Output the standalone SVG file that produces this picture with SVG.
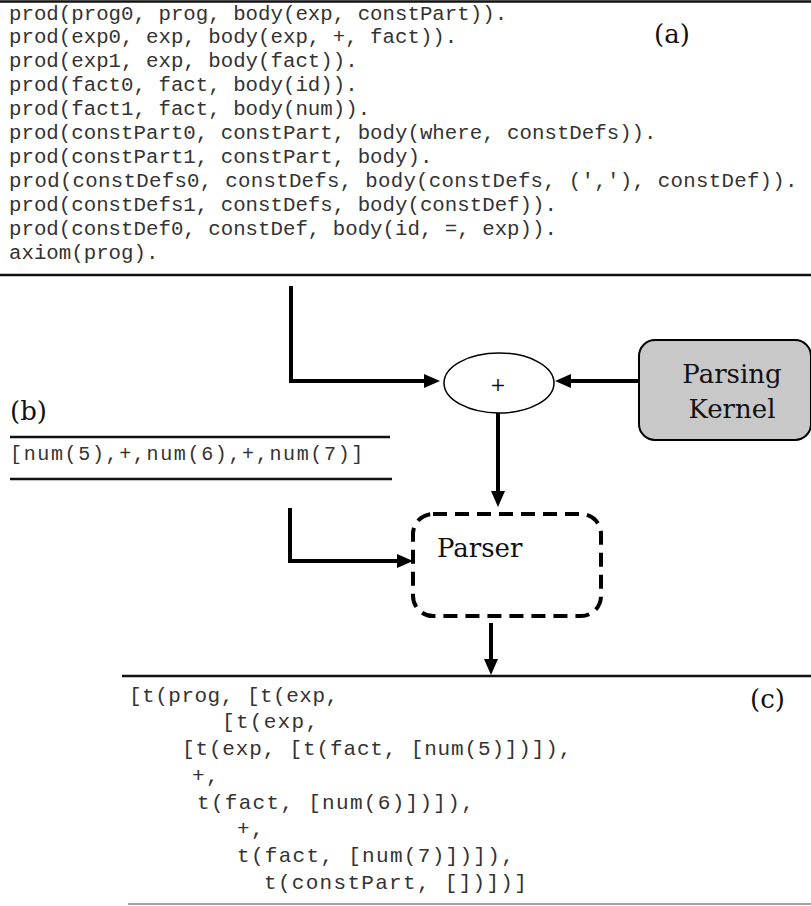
<svg xmlns="http://www.w3.org/2000/svg" width="811" height="906" viewBox="0 0 811 906">
<style>
.code{font-family:"Liberation Mono","Courier New",monospace;fill:#333}
.ca{font-size:20.76px}
.cb{font-size:20px;letter-spacing:1.65px}
.cc{font-size:21px;letter-spacing:1.3px}
.lbl{font-family:"DejaVu Serif","Liberation Serif",serif;fill:#111}
.rule{stroke:#111;stroke-width:2.5;fill:none}
.conn{stroke:#000;stroke-width:4;fill:none;stroke-linejoin:miter}
</style>
<defs>
<marker id="ah" markerUnits="userSpaceOnUse" markerWidth="16" markerHeight="14" refX="2" refY="7" orient="auto">
<path d="M0,0 L16,7 L0,14 Z" fill="#000"/>
</marker>
</defs>
<rect width="811" height="906" fill="#fff"/>

<g id="panel-a">
<line class="rule" x1="0" y1="1.5" x2="811" y2="1.5" stroke-width="3"/>
<text class="code ca" x="9" y="19.5">prod(prog0, prog, body(exp, constPart)).</text>
<text class="code ca" x="9" y="43.4">prod(exp0, exp, body(exp, +, fact)).</text>
<text class="code ca" x="9" y="67.3">prod(exp1, exp, body(fact)).</text>
<text class="code ca" x="9" y="91.2">prod(fact0, fact, body(id)).</text>
<text class="code ca" x="9" y="115.1">prod(fact1, fact, body(num)).</text>
<text class="code ca" x="9" y="139">prod(constPart0, constPart, body(where, constDefs)).</text>
<text class="code ca" x="9" y="162.9">prod(constPart1, constPart, body).</text>
<text class="code ca" x="9" y="186.8" style="letter-spacing:0.27px">prod(constDefs0, constDefs, body(constDefs, (','), constDef)).</text>
<text class="code ca" x="9" y="210.7">prod(constDefs1, constDefs, body(constDef)).</text>
<text class="code ca" x="9" y="234.6">prod(constDef0, constDef, body(id, =, exp)).</text>
<text class="code ca" x="9" y="258.5">axiom(prog).</text>
<text class="lbl" x="654" y="43" font-size="26">(a)</text>
<line class="rule" x1="0" y1="275" x2="811" y2="275"/>
</g>

<g id="panel-b">
<text class="lbl" x="10" y="420" font-size="26">(b)</text>
<line class="rule" x1="10" y1="437" x2="390" y2="437" stroke-width="2"/>
<text class="code cb" x="10" y="460">[num(5),+,num(6),+,num(7)]</text>
<line class="rule" x1="10" y1="479" x2="392" y2="479" stroke-width="2"/>
</g>

<g id="plus">
<ellipse cx="499" cy="383" rx="55" ry="30" fill="#fff" stroke="#000" stroke-width="1.5"/>
<text class="lbl" x="498" y="391" font-size="19" text-anchor="middle">+</text>
</g>

<g id="parsing-kernel">
<rect x="639" y="340" width="172" height="100" rx="16" fill="#c8c8c8" stroke="#000" stroke-width="2"/>
<text class="lbl" x="732" y="383" font-size="26" text-anchor="middle">Parsing</text>
<text class="lbl" x="732" y="418" font-size="26" text-anchor="middle">Kernel</text>
</g>

<g id="parser">
<rect x="413" y="514" width="188" height="102" rx="20" fill="none" stroke="#000" stroke-width="4" stroke-dasharray="14 8"/>
<text class="lbl" x="437" y="557" font-size="26">Parser</text>
</g>

<g id="panel-c">
<line class="rule" x1="122" y1="676" x2="811" y2="676"/>
<text class="code cc" x="129" y="701.7" style="letter-spacing:0.5px">[t(prog, [t(exp,</text>
<text class="code cc" x="222" y="728.4">[t(exp,</text>
<text class="code cc" x="182" y="755.1" style="letter-spacing:0.85px">[t(exp, [t(fact, [num(5)])]),</text>
<text class="code cc" x="192" y="781.8">+,</text>
<text class="code cc" x="197" y="808.5">t(fact, [num(6)])]),</text>
<text class="code cc" x="237" y="835.2">+,</text>
<text class="code cc" x="237" y="861.9">t(fact, [num(7)])]),</text>
<text class="code cc" x="264" y="888.6">t(constPart, [])])]</text>
<text class="lbl" x="750" y="708" font-size="26">(c)</text>
<line x1="128" y1="904" x2="811" y2="904" stroke="#888" stroke-width="1.5"/>
</g>

<g id="connectors">
<path class="conn" d="M291,286 V381 H426" marker-end="url(#ah)"/>
<path class="conn" d="M639,381 H569" marker-end="url(#ah)"/>
<path class="conn" d="M498,413 V493" marker-end="url(#ah)"/>
<path class="conn" d="M290,508 V561 H399" marker-end="url(#ah)"/>
<path class="conn" d="M491,623 V661" marker-end="url(#ah)"/>
</g>
</svg>
